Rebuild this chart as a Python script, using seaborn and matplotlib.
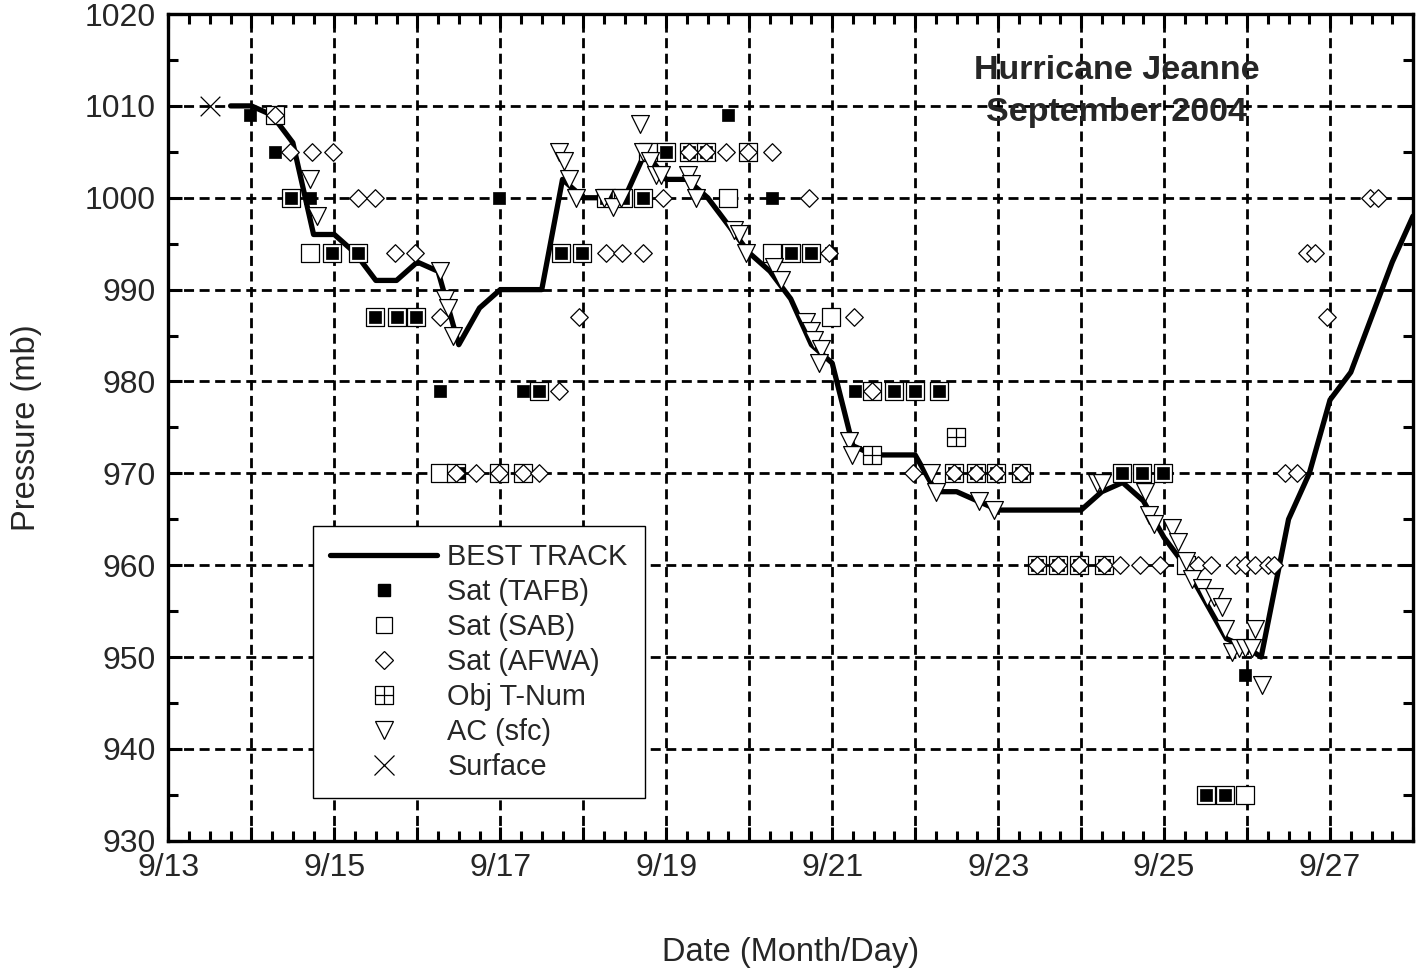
import matplotlib
matplotlib.use("Agg")
import matplotlib.pyplot as plt
from matplotlib.path import Path
from matplotlib.lines import Line2D
from matplotlib.ticker import MultipleLocator, FixedLocator
import seaborn as sns

# time axis: days after 9/13 00 UTC
# best track
bt_day = [0.75, 1.0, 1.25, 1.5, 1.75, 2.0, 2.25, 2.5, 2.75, 3.0, 3.25, 3.5, 3.75, 4.0,
          4.25, 4.5, 4.75, 5.0, 5.25, 5.5, 5.75, 6.0, 6.25, 6.5, 6.75, 7.0, 7.25, 7.5,
          7.75, 8.0, 8.25, 8.5, 8.75, 9.0, 9.25, 9.5, 9.75, 10.0, 10.25, 10.5, 10.75,
          11.0, 11.25, 11.5, 11.75, 12.0, 12.25, 12.5, 12.75, 13.0, 13.17, 13.5, 13.75,
          14.0, 14.25, 14.5, 14.75, 15.0]
bt_pres = [1010, 1010, 1009, 1006, 996, 996, 994, 991, 991, 993, 992, 984, 988, 990,
           990, 990, 1002, 1000, 1000, 1000, 1005, 1002, 1002, 1000, 997, 994, 992, 989,
           984, 982, 973, 972, 972, 972, 968, 968, 967, 966, 966, 966, 966,
           966, 968, 969, 967, 963, 960, 956, 952, 951, 950, 965, 970,
           978, 981, 987, 993, 998]

# satellite (TAFB)
tafb_day = [0.98, 1.28, 1.48, 1.71, 1.97, 2.28, 2.49, 2.75, 2.99, 3.27, 3.50, 3.99,
            4.27, 4.47, 4.73, 4.99, 5.28, 5.48, 5.72, 6.00, 6.28, 6.48, 6.74, 7.28,
            7.50, 7.74, 7.99, 8.28, 8.74, 9.00, 9.29, 9.47, 9.73, 9.97, 10.27, 10.47,
            10.72, 10.97, 11.27, 11.49, 11.73, 11.99, 12.50, 12.74, 12.98]
tafb_pres = [1009, 1005, 1000, 1000, 994, 994, 987, 987, 987, 979, 970, 1000,
             979, 979, 994, 994, 1000, 1000, 1000, 1005, 1005, 1005, 1009, 1000,
             994, 994, 994, 979, 979, 979, 979, 970, 970, 970, 970, 960,
             960, 960, 960, 970, 970, 970, 935, 935, 948]

# satellite (SAB)
sab_day = [1.28, 1.48, 1.71, 1.97, 2.28, 2.49, 2.75, 2.99, 3.27, 3.47, 3.99, 4.27,
           4.47, 4.73, 4.99, 5.28, 5.48, 5.72, 5.78, 6.00, 6.28, 6.48, 6.74, 6.98,
           7.28, 7.50, 7.74, 7.98, 8.48, 8.74, 9.00, 9.29, 9.47, 9.73, 9.97, 10.27,
           10.47, 10.72, 10.97, 11.27, 11.49, 11.73, 11.99, 12.27, 12.50, 12.74, 12.98]
sab_pres = [1009, 1000, 994, 994, 994, 987, 987, 987, 970, 970, 970, 970,
            979, 994, 994, 1000, 1000, 1000, 1005, 1005, 1005, 1005, 1000, 1005,
            994, 994, 994, 987, 979, 979, 979, 979, 970, 970, 970, 970,
            960, 960, 960, 960, 970, 970, 970, 960, 935, 935, 935]

# satellite (AFWA)
afwa_day = [1.28, 1.46, 1.73, 1.98, 2.29, 2.49, 2.73, 2.97, 3.27, 3.47, 3.71, 3.99,
            4.27, 4.47, 4.71, 4.95, 5.28, 5.47, 5.72, 5.96, 6.28, 6.48, 6.72, 6.98,
            7.28, 7.72, 7.96, 8.26, 8.48, 8.97, 9.47, 9.73, 9.97, 10.27, 10.47, 10.72,
            10.97, 11.27, 11.47, 11.71, 11.95, 12.41, 12.57, 12.85, 12.97, 13.10, 13.25,
            13.33, 13.46, 13.60, 13.72, 13.82, 13.96, 14.48, 14.58]
afwa_pres = [1009, 1005, 1005, 1005, 1000, 1000, 994, 994, 987, 970, 970, 970,
             970, 970, 979, 987, 994, 994, 994, 1000, 1005, 1005, 1005, 1005,
             1005, 1000, 994, 987, 979, 970, 970, 970, 970, 970, 960, 960,
             960, 960, 960, 960, 960, 960, 960, 960, 960, 960, 960,
             960, 970, 970, 994, 994, 987, 1000, 1000]

# objective T-number
objt_day = [8.48, 9.49]
objt_pres = [972, 974]

# aircraft (surface)
ac_day = [1.71, 1.79, 3.27, 3.33, 3.37, 3.43, 4.71, 4.77, 4.83, 4.91, 5.25, 5.36,
          5.45, 5.68, 5.72, 5.80, 5.88, 5.94, 6.26, 6.30, 6.36, 6.82, 6.88, 6.96,
          7.30, 7.38, 7.68, 7.74, 7.78, 7.86, 7.84, 8.20, 8.24, 9.19, 9.25, 9.77,
          9.95, 11.19, 11.25, 11.77, 11.82, 11.88, 12.09, 12.17, 12.26, 12.34, 12.46,
          12.52, 12.60, 12.70, 12.74, 12.82, 12.90, 12.98, 13.06, 13.10, 13.18]
ac_pres = [1002, 998, 992, 989, 988, 985, 1005, 1004, 1002, 1000, 1000, 999,
           1000, 1008, 1005, 1004, 1002.5, 1002.5, 1002.5, 1001.5, 1000, 996.5, 996, 994,
           992.5, 991, 986.5, 985.5, 984.5, 983.5, 982, 973.5, 972, 970, 968, 967,
           966, 969, 969, 968, 965.5, 964.5, 964, 962.5, 960.5, 958.5, 957.5,
           956.5, 956.5, 955.5, 953, 950.5, 951, 951, 951, 953, 947]

# surface
sfc_day = [0.5]
sfc_pres = [1010]

tick_days = list(range(0, 16))
tick_labels = ["9/13", "", "9/15", "", "9/17", "", "9/19", "", "9/21", "", "9/23",
               "", "9/25", "", "9/27", ""]

sns.set_style("ticks")
plt.rcParams["font.family"] = ["Liberation Sans", "DejaVu Sans"]

fig = plt.figure(figsize=(14.16, 9.75), dpi=100)
ax = fig.add_axes([0.1189, 0.1377, 0.8790, 0.8479])

# square with a cross for the objective T-number
objt_marker = Path([(-1, -1), (1, -1), (1, 1), (-1, 1), (-1, -1),
                    (0, -1), (0, 1), (-1, 0), (1, 0)],
                   [Path.MOVETO, Path.LINETO, Path.LINETO, Path.LINETO, Path.CLOSEPOLY,
                    Path.MOVETO, Path.LINETO, Path.MOVETO, Path.LINETO])

sns.lineplot(x=bt_day, y=bt_pres, sort=False, estimator=None, color="black",
             linewidth=3.8, ax=ax, zorder=3)
sns.scatterplot(x=sab_day, y=sab_pres, marker="s", s=150, color="white",
                edgecolor="black", linewidth=0.9, ax=ax, zorder=4)
sns.scatterplot(x=tafb_day, y=tafb_pres, marker="s", s=85, color="black",
                edgecolor="black", linewidth=0.5, ax=ax, zorder=5)
sns.scatterplot(x=objt_day, y=objt_pres, marker=objt_marker, s=170, color="white",
                edgecolor="black", linewidth=0.9, ax=ax, zorder=5)
sns.scatterplot(x=afwa_day, y=afwa_pres, marker="D", s=80, color="white",
                edgecolor="black", linewidth=0.9, ax=ax, zorder=6)
sns.scatterplot(x=ac_day, y=ac_pres, marker="v", s=165, color="white",
                edgecolor="black", linewidth=0.9, ax=ax, zorder=7)
ax.scatter(sfc_day, sfc_pres, marker="x", s=200, color="black", linewidth=0.9, zorder=7)

ax.set_xlim(0, 15)
ax.set_ylim(930, 1020)
ax.xaxis.set_major_locator(FixedLocator(tick_days))
ax.set_xticklabels(tick_labels)
ax.xaxis.set_minor_locator(MultipleLocator(0.25))
ax.yaxis.set_major_locator(MultipleLocator(10))
ax.yaxis.set_minor_locator(MultipleLocator(5))

ax.tick_params(which="both", direction="in", top=True, right=True, width=2.2,
               labelsize=23, pad=9, color="black")
ax.tick_params(which="major", length=10)
ax.tick_params(which="minor", length=7)
for sp in ax.spines.values():
    sp.set_linewidth(2.4)
    sp.set_color("black")
    sp.set_zorder(10)

ax.grid(True, which="major", color="black", linewidth=2.0, linestyle=(0, (3.6, 2.0)))
ax.set_axisbelow(True)

ax.set_xlabel("Date (Month/Day)", fontsize=23.5, labelpad=39)
ax.set_ylabel("Pressure (mb)", fontsize=23.5, labelpad=31)

ax.text(0.762, 0.9323, "Hurricane Jeanne", transform=ax.transAxes,
        ha="center", va="center", fontsize=24.5, fontweight="bold", zorder=8)
ax.text(0.762, 0.8814, "September 2004", transform=ax.transAxes,
        ha="center", va="center", fontsize=24.5, fontweight="bold", zorder=8)

handles = [
    Line2D([], [], color="black", linewidth=3.8),
    Line2D([], [], marker="s", linestyle="none", markersize=9.2, markerfacecolor="black",
           markeredgecolor="black"),
    Line2D([], [], marker="s", linestyle="none", markersize=12.2, markerfacecolor="white",
           markeredgecolor="black", markeredgewidth=0.9),
    Line2D([], [], marker="D", linestyle="none", markersize=8.8, markerfacecolor="white",
           markeredgecolor="black", markeredgewidth=0.9),
    Line2D([], [], marker=objt_marker, linestyle="none", markersize=13, markerfacecolor="white",
           markeredgecolor="black", markeredgewidth=0.9),
    Line2D([], [], marker="v", linestyle="none", markersize=12.8, markerfacecolor="white",
           markeredgecolor="black", markeredgewidth=0.9),
    Line2D([], [], marker="x", linestyle="none", markersize=14, color="black",
           markeredgewidth=0.9),
]
names = ["BEST TRACK", "Sat (TAFB)", "Sat (SAB)", "Sat (AFWA)", "Obj T-Num",
         "AC (sfc)", "Surface"]
leg = ax.legend(handles, names, loc="lower left", bbox_to_anchor=(0.1163, 0.0517),
                borderaxespad=0, fontsize=20.8, handlelength=3.7, handletextpad=0.35,
                labelspacing=0.24, borderpad=0.6, fancybox=False, framealpha=1,
                edgecolor="black")
leg.get_frame().set_linewidth(1.0)
leg.set_zorder(20)

fig.savefig("out.png", dpi=100)
